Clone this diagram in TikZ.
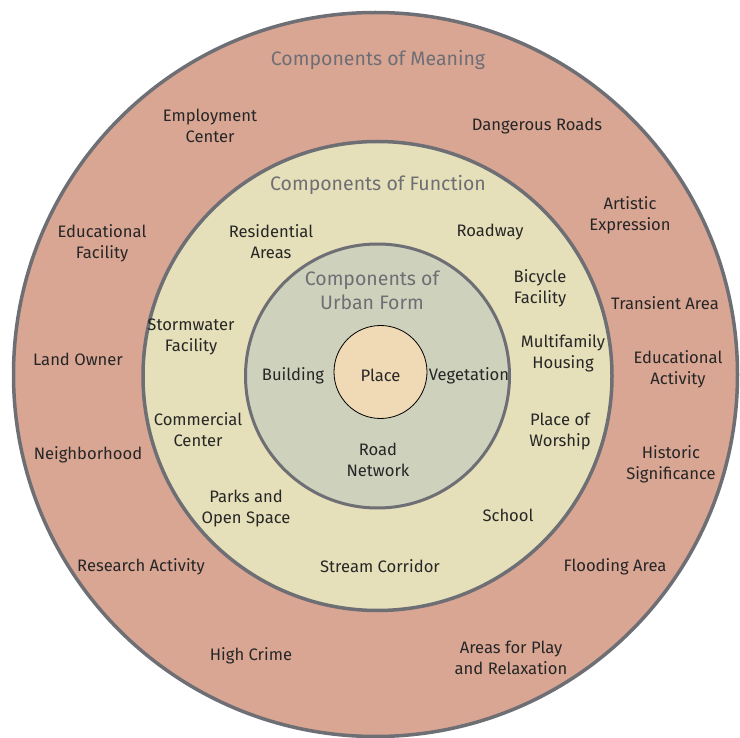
\documentclass[tikz,border=0pt]{standalone}
\usepackage{fontspec}
\setmainfont{Fira Sans}
\usepackage{xcolor}
\usetikzlibrary{positioning}

\definecolor{meaningfill}{HTML}{D9A694}
\definecolor{functionfill}{HTML}{E5E0B9}
\definecolor{formfill}{HTML}{CED2BC}
\definecolor{placefill}{HTML}{F0D9B5}
\definecolor{ringline}{HTML}{6E6E75}
\definecolor{labeltext}{HTML}{262626}

\begin{document}
\begin{tikzpicture}[x=1pt,y=-1pt,
  ring/.style={draw=ringline, line width=3.5pt},
  ring title/.style={font=\fontsize{19.5}{24}\selectfont, text=ringline, align=center, yshift=-1pt},
  comp node/.style={font=\fontsize{16.6}{21}\selectfont, text=labeltext, align=center, inner sep=0pt, yshift=-1.5pt}]

  \useasboundingbox (0,0) rectangle (740,738);

  % rings
  \fill[meaningfill] (375.5,374.5) circle (362);
  \draw[ring] (375.5,374.5) circle (362);
  \fill[functionfill] (377.5,376) circle (234.5);
  \draw[ring] (377.5,376) circle (234.5);
  \fill[formfill] (377.5,376) circle (132);
  \draw[ring, line width=3pt] (377.5,376) circle (132);
  \node [circle, draw=black, line width=0.8pt, fill=placefill, minimum size=93pt, inner sep=0pt] (PlaceRing) at (380.5,372) {};
  \node [comp node] (Place) at (380.5,374) {Place};

  % titles
  \node [ring title] (MeaningTitle) at (378,59) {Components of Meaning};
  \node [ring title] (FunctionTitle) at (378,184) {Components of Function};
  \node [ring title] (FormTitle) at (372,289) {Components of\\Urban Form};

  % components of meaning
  \node [comp node] (Employment) at (210,124) {Employment\\Center};
  \node [comp node] (Dangerous) at (537,125) {Dangerous Roads};
  \node [comp node] (Artistic) at (630,214) {Artistic\\Expression};
  \node [comp node] (EduFacility) at (102,242) {Educational\\Facility};
  \node [comp node] (Transient) at (665,302) {Transient Area};
  \node [comp node] (LandOwner) at (78,358) {Land Owner};
  \node [comp node] (EduActivity) at (678,368) {Educational\\Activity};
  \node [comp node] (Neighborhood) at (88,453) {Neighborhood};
  \node [comp node] (Historic) at (671,463) {Historic\\Significance};
  \node [comp node] (Research) at (141,565) {Research Activity};
  \node [comp node] (Flooding) at (615,565) {Flooding Area};
  \node [comp node] (HighCrime) at (251,654) {High Crime};
  \node [comp node] (PlayAreas) at (511,656) {Areas for Play\\and Relaxation};

  % components of function
  \node [comp node] (Residential) at (271,240) {Residential\\Areas};
  \node [comp node] (Roadway) at (490,231) {Roadway};
  \node [comp node] (Bicycle) at (540,287) {Bicycle\\Facility};
  \node [comp node] (Stormwater) at (191,335) {Stormwater\\Facility};
  \node [comp node] (Multifamily) at (563,352) {Multifamily\\Housing};
  \node [comp node] (Commercial) at (198,428) {Commercial\\Center};
  \node [comp node] (Worship) at (560,430) {Place of\\Worship};
  \node [comp node] (Parks) at (246,507) {Parks and\\Open Space};
  \node [comp node] (School) at (508,514) {School};
  \node [comp node] (Stream) at (380,565) {Stream Corridor};

  % components of urban form
  \node [comp node] (Building) at (293,374) {Building};
  \node [comp node] (Vegetation) at (469,374) {Vegetation};
  \node [comp node] (RoadNet) at (378,458) {Road\\Network};
\end{tikzpicture}
\end{document}
